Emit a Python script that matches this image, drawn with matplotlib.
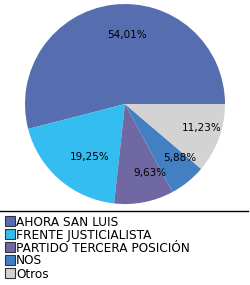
import matplotlib
matplotlib.use("Agg")
import matplotlib.pyplot as plt
import matplotlib.transforms as mtransforms
from matplotlib.lines import Line2D

parties = ["AHORA SAN LUIS", "FRENTE JUSTICIALISTA", "PARTIDO TERCERA POSICIÓN", "NOS", "Otros"]
shares = [54.01, 19.25, 9.63, 5.88, 11.23]
colors = ["#566db0", "#33bdf0", "#7068a3", "#4280c3", "#d3d3d3"]

plt.rcParams["font.family"] = "DejaVu Sans"

fig = plt.figure(figsize=(2.5, 2.85), dpi=100)
ax = fig.add_axes([0.1, 0.284, 0.8, 0.702])

wedges, texts, autotexts = ax.pie(
    shares, colors=colors, startangle=0, counterclock=True,
    autopct=lambda p: "{:.2f}%".format(p).replace(".", ","),
    pctdistance=0.7, radius=1.0,
    wedgeprops={"linewidth": 0},
    textprops={"fontsize": 7.5, "color": "black"},
)
shift = mtransforms.ScaledTranslation(0.11, 0, fig.dpi_scale_trans)
for t in autotexts:
    t.set_transform(t.get_transform() + shift)
ax.set_xlim(-1, 1)
ax.set_ylim(-1, 1)
ax.set_aspect("equal")

# separator line above the legend
fig.add_artist(Line2D([0, 0.99], [1 - 210.5 / 285, 1 - 210.5 / 285],
                      color="black", linewidth=1, transform=fig.transFigure))

handles = [Line2D([], [], marker="s", linestyle="none", markersize=6.8,
                  markerfacecolor=c, markeredgecolor="#333333", markeredgewidth=0.8)
           for c in colors]
fig.legend(handles, parties, loc="upper left",
           bbox_to_anchor=(0.026, 1 - 215.5 / 285), frameon=False,
           fontsize=8.7, handlelength=0.6, handletextpad=0.2,
           labelspacing=0.0, borderpad=0, borderaxespad=0)

fig.savefig("out.png", dpi=100)
